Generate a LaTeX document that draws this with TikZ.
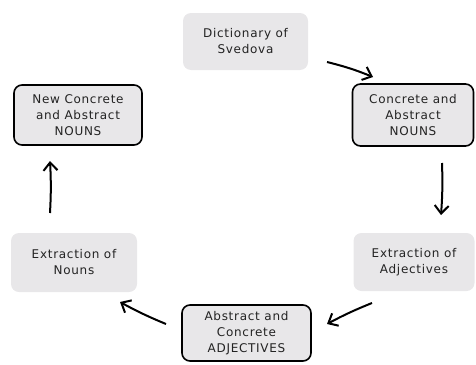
\documentclass[tikz,border=0pt]{standalone}
\usepackage{fontspec}
\setmainfont{DejaVu Sans}[LetterSpace=6]
\usetikzlibrary{arrows.meta}
\definecolor{boxfill}{RGB}{232,231,233}
\definecolor{txt}{RGB}{35,35,35}
\tikzset{
  box/.style={rounded corners=8pt, fill=boxfill, align=center, text=txt,
    font=\fontsize{12}{16}\selectfont, inner sep=0pt},
  framed/.style={box, draw=black, line width=1.6pt},
  hand/.style={line width=2pt, -{Straight Barb[length=8pt,width=14pt,line width=2pt]}}
}
\begin{document}
\begin{tikzpicture}[x=1pt,y=-1pt]
\useasboundingbox (0,0) rectangle (476,364);
\node[box, minimum width=125pt, minimum height=57pt] (dict) at (245.5,41.5) {Dictionary of\\Svedova};
\node[framed, minimum width=128pt, minimum height=60pt] (newn) at (78,115) {New Concrete\\and Abstract\\NOUNS};
\node[framed, minimum width=121pt, minimum height=62pt] (conc) at (413,115) {Concrete and\\Abstract\\NOUNS};
\node[box, minimum width=126pt, minimum height=59pt] (exn) at (74,262.5) {Extraction of\\Nouns};
\node[box, minimum width=121pt, minimum height=58pt] (exa) at (414,262) {Extraction of\\Adjectives};
\node[framed, minimum width=129pt, minimum height=56pt] (absa) at (246.5,333) {Abstract and\\Concrete\\ADJECTIVES};
\coordinate (a1s) at (327,62); \coordinate (a1e) at (373,77);
\coordinate (a2s) at (442,163); \coordinate (a2e) at (441,215);
\coordinate (a3s) at (372,303); \coordinate (a3e) at (327,324);
\coordinate (a4s) at (166,324); \coordinate (a4e) at (120,302);
\coordinate (a5s) at (50,213); \coordinate (a5e) at (50,161);
\draw[hand] (a1s) to[bend left=4] (a1e);
\draw[hand] (a2s) to[bend left=3] (a2e);
\draw[hand] (a3s) to[bend right=3] (a3e);
\draw[hand] (a4s) to[bend left=3] (a4e);
\draw[hand] (a5s) to[bend right=3] (a5e);
\end{tikzpicture}
\end{document}
